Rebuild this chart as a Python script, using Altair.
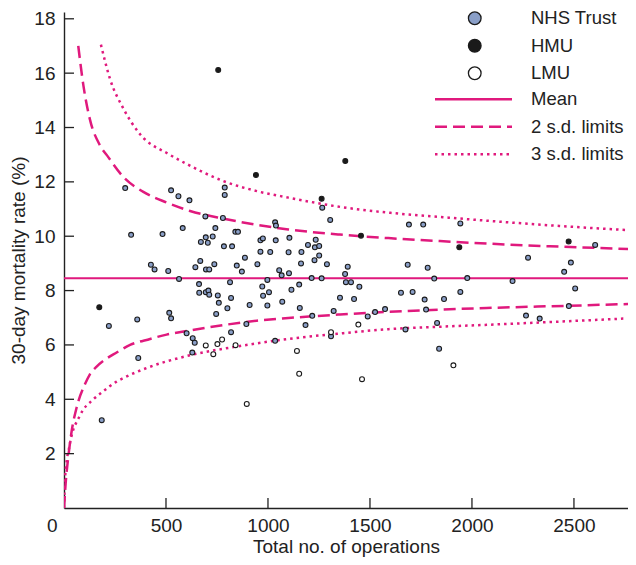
import altair as alt
import pandas as pd

FONT = "Liberation Sans"
MAG = "#e0197d"
INK = "#222222"

# ---- data ----
nhs_x = [300, 329, 483, 525, 561, 615, 582, 693, 788, 788, 779, 742, 671, 695, 705, 729, 784, 824, 840, 853,
         426, 444, 511, 564, 644, 668, 696, 712, 737, 814, 847, 872, 887, 948, 963, 975, 963, 1011, 1035, 1039,
         1038, 1055, 1067, 997, 1101, 1105, 1103, 1164, 1162, 1214, 1228, 1234, 1230, 1251, 1196, 1251, 1289,
         1266, 1305, 1691, 1761, 1943, 2275, 2604, 2485, 2452, 1685, 1783, 1391, 1378, 1382, 1407, 1263, 1815,
         1977, 2199, 220, 185, 359, 364, 516, 525, 601, 631, 641, 629, 662, 663, 695, 708, 712, 754, 759, 746,
         801, 819, 819, 894, 910, 972, 976, 1005, 997, 1070, 1115, 1153, 1156, 1184, 1217, 1035, 1353, 1422,
         1448, 1322, 1309, 1489, 1525, 1574, 1652, 1709, 1768, 1863, 1943, 1775, 1829, 1674, 1839, 2265, 2332,
         2506, 2475]
nhs_y = [11.77, 10.05, 10.08, 11.69, 11.47, 11.32, 10.30, 10.73, 11.79, 11.52, 10.67, 10.30, 9.79, 9.96, 9.76,
         9.99, 9.63, 9.63, 10.16, 10.16, 8.95, 8.78, 8.72, 8.43, 8.86, 9.09, 8.78, 8.78, 8.97, 8.31, 8.92, 8.70,
         9.21, 8.97, 9.85, 9.92, 9.43, 9.42, 10.51, 10.39, 9.85, 8.75, 8.56, 8.39, 9.41, 9.94, 8.64, 9.42, 9.00,
         8.46, 9.12, 9.87, 9.59, 9.29, 9.68, 9.64, 8.97, 11.05, 10.60, 10.43, 10.43, 10.47, 9.21, 9.68, 9.03,
         8.69, 8.95, 8.84, 8.88, 8.61, 8.31, 8.31, 8.45, 8.44, 8.46, 8.35, 6.70, 3.23, 6.94, 5.52, 7.18, 6.98,
         6.43, 6.25, 6.08, 5.72, 8.24, 7.92, 7.94, 8.00, 7.85, 7.82, 7.55, 7.14, 7.35, 7.73, 6.47, 6.77, 7.47,
         8.15, 7.81, 7.94, 7.45, 7.59, 8.03, 8.22, 7.36, 6.73, 7.07, 6.15, 7.74, 7.69, 8.14, 7.25, 6.32, 7.05,
         7.21, 7.32, 7.92, 7.95, 7.67, 7.69, 7.95, 7.30, 6.81, 6.57, 5.86, 7.08, 6.97, 8.08, 7.43]
hmu_x = [756, 941, 1379, 1263, 1456, 1938, 2474, 173]
hmu_y = [16.12, 12.25, 12.77, 11.38, 10.02, 9.59, 9.81, 7.39]
lmu_x = [695, 732, 752, 775, 841, 896, 1142, 1153, 1309, 1443, 1461, 1909]
lmu_y = [5.98, 5.66, 6.03, 6.20, 5.99, 3.83, 5.78, 4.94, 6.47, 6.75, 4.74, 5.25]

mean_val = [8.45]

upper2_x = [70, 95, 127, 176, 217, 291, 389, 503, 618, 781, 945, 1100, 1353, 1590, 1843, 2072, 2382, 2775]
upper2_y = [17.0, 15.55, 14.3, 13.35, 12.91, 12.18, 11.63, 11.24, 10.93, 10.65, 10.42, 10.25, 10.06, 9.93,
            9.82, 9.73, 9.63, 9.53]
lower2_x = [0, 8, 21, 38, 62, 103, 127, 160, 209, 258, 324, 422, 503, 601, 781, 945, 1100, 1353, 1590, 1843,
            2072, 2464, 2796]
lower2_y = [0, 0.9, 1.88, 2.85, 3.70, 4.56, 4.92, 5.2, 5.5, 5.72, 6.0, 6.22, 6.38, 6.51, 6.73, 6.89, 6.99,
            7.12, 7.22, 7.30, 7.36, 7.44, 7.51]
upper3_x = [181, 225, 291, 373, 511, 601, 781, 945, 1100, 1353, 1600, 1858, 2074, 2464, 2775]
upper3_y = [17.05, 15.8, 14.7, 13.75, 13.03, 12.66, 12.03, 11.66, 11.42, 11.08, 10.86, 10.70, 10.57, 10.36,
            10.22]
lower3_x = [0, 5, 29, 78, 144, 185, 258, 291, 405, 601, 863, 1100, 1353, 1590, 1843, 2072, 2464, 2742]
lower3_y = [0, 1.1, 2.36, 3.4, 4.0, 4.25, 4.65, 4.78, 5.15, 5.59, 5.96, 6.22, 6.42, 6.58, 6.67, 6.74, 6.87,
            6.97]

x_labels = [0, 500, 1000, 1500, 2000, 2500]
x_ticks = [500, 1000, 1500, 2000, 2500]
y_labels = [2, 4, 6, 8, 10, 12, 14, 16, 18]

point_types = ["NHS Trust", "HMU", "LMU"]
point_fills = ["#8a9fc8", "#1a1a1a", "#ffffff"]
line_types = ["Mean", "2 s.d. limits", "3 s.d. limits"]
line_dashes = [[1, 0], [12, 6], [2.5, 4]]

# ---- tables ----
pts = pd.concat([
    pd.DataFrame({"x": nhs_x, "y": nhs_y, "type": "NHS Trust"}),
    pd.DataFrame({"x": hmu_x, "y": hmu_y, "type": "HMU"}),
    pd.DataFrame({"x": lmu_x, "y": lmu_y, "type": "LMU"}),
], ignore_index=True)

curves = pd.concat([
    pd.DataFrame({"x": upper2_x, "y": upper2_y, "series": "2 s.d. limits", "curve": "u2"}),
    pd.DataFrame({"x": lower2_x, "y": lower2_y, "series": "2 s.d. limits", "curve": "l2"}),
    pd.DataFrame({"x": upper3_x, "y": upper3_y, "series": "3 s.d. limits", "curve": "u3"}),
    pd.DataFrame({"x": lower3_x, "y": lower3_y, "series": "3 s.d. limits", "curve": "l3"}),
], ignore_index=True)

mean_df = pd.DataFrame({"y": mean_val, "series": ["Mean"]})
xt_df = pd.DataFrame({"x": x_ticks})
yt_df = pd.DataFrame({"y": y_labels})

PLOT_H = 496
xs = alt.Scale(domain=[0, 2765], nice=False, zero=False)
ys = alt.Scale(domain=[0, 18.25], nice=False)

x_axis = alt.Axis(
    values=x_labels, format="d", title="Total no. of operations", ticks=False, grid=False,
    domainColor=INK, domainWidth=1.4, labelFontSize=19, labelColor=INK, labelFont=FONT,
    labelPadding=8, labelOverlap=False,
    labelAlign={"condition": {"test": "datum.value === 0", "value": "right"}, "value": "center"},
    labelOffset={"condition": {"test": "datum.value === 0", "value": -7}, "value": 0},
    titleFontSize=19, titleFont=FONT, titleColor=INK, titleFontWeight="normal", titlePadding=2,
)
y_axis = alt.Axis(
    values=y_labels, title="30-day mortality rate (%)", ticks=False, grid=False,
    domainColor=INK, domainWidth=1.4, labelFontSize=19, labelColor=INK, labelFont=FONT,
    labelPadding=9, labelOverlap=False,
    titleFontSize=19, titleFont=FONT, titleColor=INK, titleFontWeight="normal", titlePadding=5,
)


def X():
    return alt.X("x:Q", scale=xs, axis=x_axis)


def Y():
    return alt.Y("y:Q", scale=ys, axis=y_axis)


dash_legend = alt.Legend(
    title=None, orient="none", legendX=369.5, legendY=78, direction="vertical",
    symbolType="stroke", symbolSize=5929, symbolStrokeWidth=2.5, symbolStrokeColor=MAG,
    labelFontSize=18.5, labelFont=FONT, labelColor=INK, labelOffset=17.5, clipHeight=18.5,
    rowPadding=8.5, padding=0, labelLimit=300,
)
dash_enc = alt.StrokeDash("series:N", scale=alt.Scale(domain=line_types, range=line_dashes),
                          legend=dash_legend)

fill_legend = alt.Legend(
    title=None, orient="none", legendX=401.5, legendY=-3, direction="vertical",
    symbolType="circle", symbolSize=160, symbolStrokeColor="#1a1a1a", symbolStrokeWidth=1.3,
    symbolOpacity=1, labelFontSize=18.5, labelFont=FONT, labelColor=INK, labelOffset=47,
    rowPadding=8.5, padding=0, labelLimit=300,
)

lines = alt.Chart(curves).mark_line(color=MAG, strokeWidth=2.5, interpolate="monotone", clip=True).encode(
    x=X(), y=Y(), strokeDash=dash_enc, detail="curve:N", order="x:Q"
)
mean_rule = alt.Chart(mean_df).mark_rule(color=MAG, strokeWidth=2).encode(y=Y(), strokeDash=dash_enc)

points = alt.Chart(pts).mark_point(
    shape="circle", filled=True, size=24, stroke="#1a1a1a", strokeWidth=1.1, opacity=1
).encode(
    x=X(), y=Y(),
    fill=alt.Fill("type:N", scale=alt.Scale(domain=point_types, range=point_fills), legend=fill_legend),
)

xticks = alt.Chart(xt_df).mark_rule(color=INK, strokeWidth=1.3).encode(
    x=X(), y=alt.value(PLOT_H), y2=alt.value(PLOT_H - 10)
)
yticks = alt.Chart(yt_df).mark_rule(color=INK, strokeWidth=1.3).encode(
    y=Y(), x=alt.value(0), x2=alt.value(10)
)

chart = alt.layer(lines, mean_rule, xticks, yticks, points).resolve_scale(
    fill="independent"
).properties(
    width=564, height=PLOT_H,
    autosize=alt.AutoSizeParams(type="none"),
    padding={"left": 56, "top": 4, "right": 0, "bottom": 49},
    background="white",
).configure_view(strokeWidth=0).configure_axis(labelFont=FONT, titleFont=FONT)

chart.save("out.html", embed_options={"renderer": "svg", "actions": False})
